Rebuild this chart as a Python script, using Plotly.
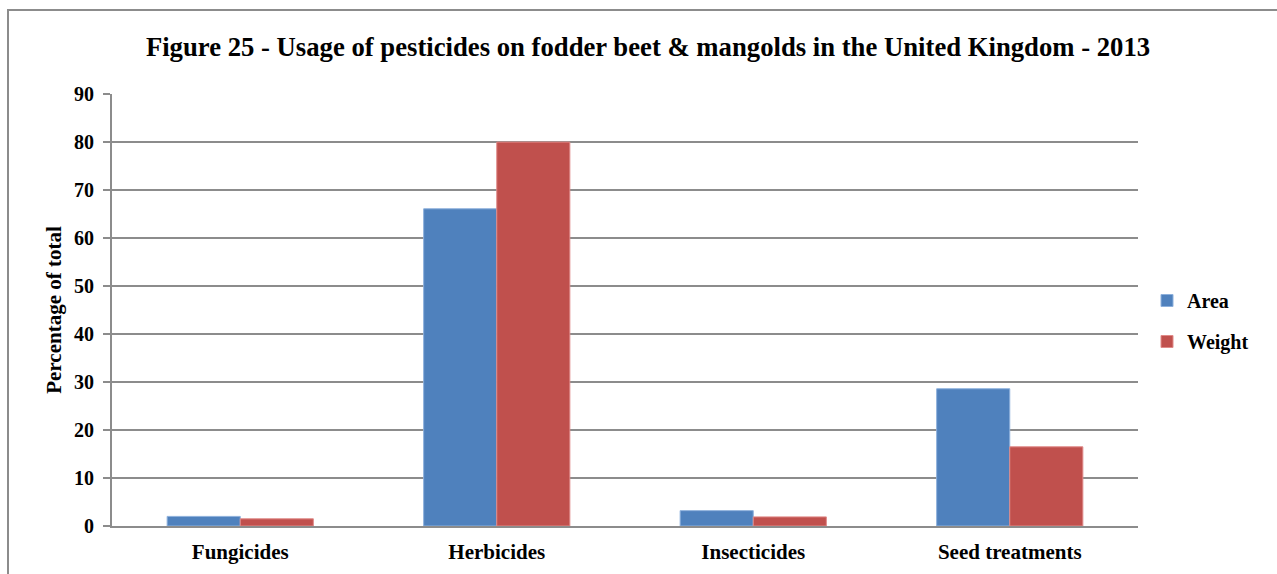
import plotly.graph_objects as go

# Pesticide usage on fodder beet & mangolds, UK 2013 (% of total)
categories = ["Fungicides", "Herbicides", "Insecticides", "Seed treatments"]
area_pct = [2.0, 66.1, 3.2, 28.6]
weight_pct = [1.5, 80.0, 1.9, 16.5]
y_ticks = [0, 10, 20, 30, 40, 50, 60, 70, 80, 90]

W, H = 1277, 574
L, R, T, B = 112, 139, 94, 48
plot_w = W - L - R
plot_h = H - T - B

serif = "Liberation Serif, Times New Roman, serif"
blue = "#4F81BD"
red = "#C0504D"
grid = "#8C8C8C"

fig = go.Figure()
fig.add_trace(go.Bar(
    name="<b>Area</b>", x=categories, y=area_pct,
    marker=dict(color=blue, line=dict(color="#8DB0DC", width=1)),
    legendgroup="a",
))
fig.add_trace(go.Bar(
    name="<b>Weight</b>", x=categories, y=weight_pct,
    marker=dict(color=red, line=dict(color="#E08A88", width=1)),
    legendgroup="w",
))


def px_x(px):
    return (px - L) / plot_w


def px_y(py):
    return (H - B - py) / plot_h


fig.update_layout(
    width=W, height=H,
    margin=dict(l=L, r=R, t=T, b=B),
    paper_bgcolor="white", plot_bgcolor="white",
    barmode="group", bargap=0.43, bargroupgap=0,
    font=dict(family=serif, size=20, color="black"),
    title=dict(
        text="<b>Figure 25 - Usage of pesticides on fodder beet &amp; mangolds in the United Kingdom - 2013</b>",
        x=px_x(648), xref="paper", xanchor="center",
        y=1 - 47 / H, yanchor="middle",
        font=dict(family=serif, size=26.7, color="black"),
    ),
    xaxis=dict(
        showgrid=False, showline=True, linecolor=grid, linewidth=2,
        ticks="", tickfont=dict(family=serif, size=21, color="black"),
        tickvals=categories,
        ticktext=[f"<b>{c}</b>" for c in categories],
        ticklabelstandoff=6, automargin=False,
    ),
    yaxis=dict(
        range=[0, 90.02], tickvals=y_ticks,
        ticktext=[f"<b>{v}</b>" for v in y_ticks],
        showgrid=True, gridcolor=grid, gridwidth=2,
        showline=True, linecolor=grid, linewidth=2,
        ticks="outside", ticklen=7, tickcolor=grid, tickwidth=2,
        tickfont=dict(family=serif, size=20, color="black"),
        ticklabelstandoff=5, automargin=False,
        zeroline=False,
        title=dict(text="<b>Percentage of total</b>", standoff=7,
                   font=dict(family=serif, size=21, color="black")),
    ),
    legend=dict(
        x=px_x(1147), xanchor="left",
        y=px_y(281), yanchor="top",
        font=dict(family=serif, size=20, color="black"),
        tracegroupgap=12, bgcolor="rgba(0,0,0,0)",
        itemwidth=30,
    ),
    showlegend=True,
)

# chart frame
fig.add_shape(
    type="rect", xref="paper", yref="paper",
    x0=px_x(8), x1=px_x(W + 20), y0=px_y(H + 20), y1=px_y(10),
    line=dict(color="#8C8C8C", width=2), fillcolor="rgba(0,0,0,0)",
    layer="below",
)

fig.write_html("out.html")
